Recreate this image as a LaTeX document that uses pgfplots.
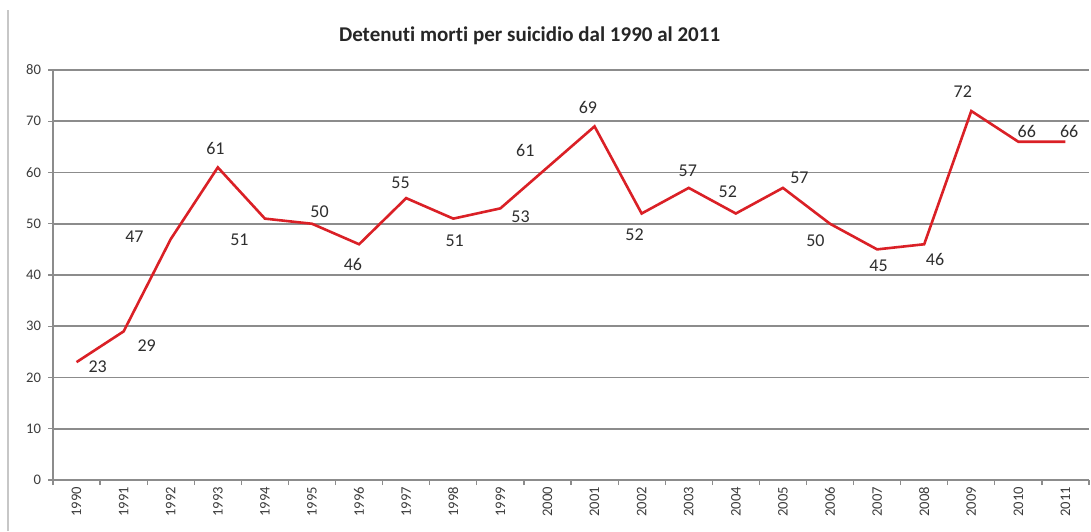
\documentclass[border=0pt]{standalone}
\usepackage{pgfplots}
\pgfplotsset{compat=1.18}
\usepackage{pgfplotstable}
\usepackage{fontspec}
\setmainfont{Carlito}[Ligatures={NoCommon}]

\definecolor{lineRed}{RGB}{218,32,38}
\definecolor{gridGray}{RGB}{140,140,140}
\definecolor{txtGray}{RGB}{60,60,60}

% idx: year-1990, val: deaths, lx/ly: where the label sits
\pgfplotstableread{
idx val lx ly
0 23 0.45 22.1
1 29 1.49 26.3
2 47 1.23 47.5
3 61 2.95 64.7
4 51 3.46 46.8
5 50 5.16 52.4
6 46 5.87 42.0
7 55 6.88 58.0
8 51 8.03 46.7
9 53 9.43 51.3
10 61 9.53 64.2
11 69 10.86 72.7
12 52 11.85 47.9
13 57 12.98 60.4
14 52 13.83 56.3
15 57 15.35 58.9
16 50 15.69 46.6
17 45 17.03 41.8
18 46 18.23 43.1
19 72 18.82 75.8
20 66 20.18 68.0
21 66 21.08 68.0
}\data

\begin{document}
\begin{tikzpicture}
\draw[black!22, line width=0.6pt] (4pt,0) -- (4pt,260.5pt);
\begin{axis}[
    at={(26.5pt,25.5pt)}, anchor=south west,
    scale only axis, width=518pt, height=205pt,
    axis x line=bottom, axis y line=left,
    axis line style={draw=gridGray, line width=0.6pt, -},
    xmin=-0.5, xmax=21.5, ymin=0, ymax=80,
    ytick={0,10,...,80},
    ymajorgrids,
    grid style={draw=gridGray, line width=0.8pt},
    xtick={-0.5,0.5,...,21.5}, xticklabels={},
    extra x ticks={0,1,...,21},
    extra x tick labels={1990,1991,1992,1993,1994,1995,1996,1997,1998,1999,2000,2001,2002,2003,2004,2005,2006,2007,2008,2009,2010,2011},
    extra x tick style={major tick length=0pt, tick label style={rotate=90, anchor=east}},
    tick align=outside, major tick length=2.5pt,
    tick style={draw=gridGray, line width=0.6pt},
    ticklabel style={font=\fontsize{7.3}{8}\selectfont, text=txtGray},
    /pgf/number format/assume math mode=true,
    title={Detenuti morti per suicidio dal 1990 al 2011},
    title style={at={(0.46,1)}, anchor=center, yshift=11pt, font=\bfseries\fontsize{10.5}{12}\selectfont, text=black!85},
    clip=false,
]
\addplot[color=lineRed, line width=1.3pt, mark=none] table[x=idx, y=val]{\data};
\addplot[draw=none, mark=none, nodes near coords, point meta=explicit symbolic,
    every node near coord/.append style={anchor=center, inner sep=0pt, font=\fontsize{9}{10}\selectfont, text=black!82}]
    table[x=lx, y=ly, meta=val]{\data};
\end{axis}
\pgfresetboundingbox
\path (0,0) rectangle (545.5pt,265.5pt);
\end{tikzpicture}
\end{document}
